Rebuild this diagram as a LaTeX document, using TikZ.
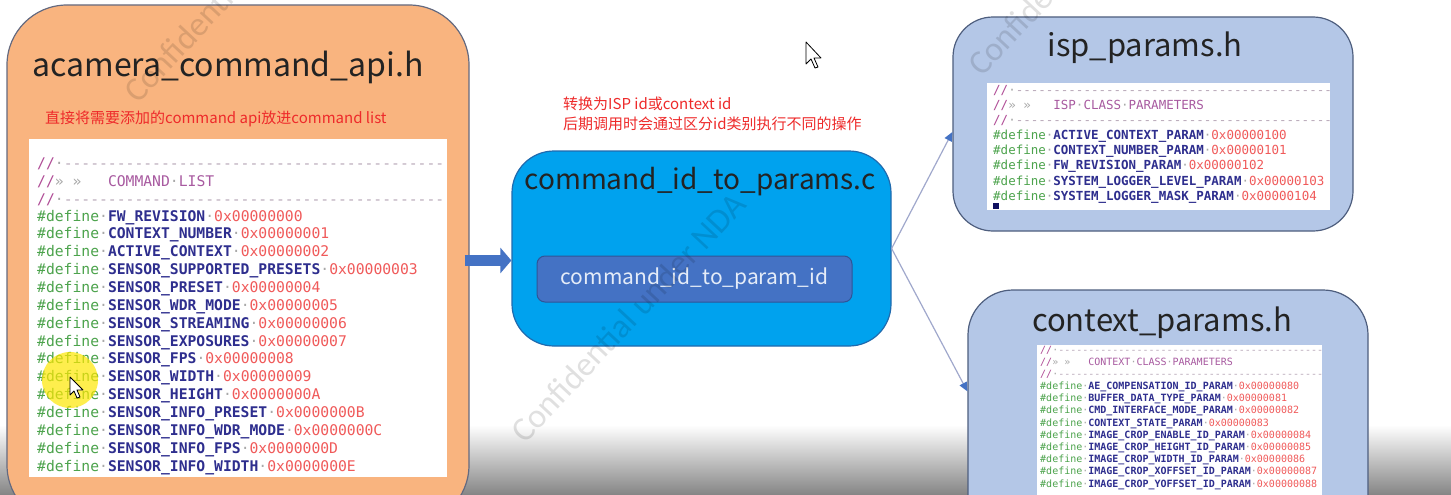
\documentclass[tikz,border=0pt]{standalone}
\usepackage{fontspec}
\setmainfont{Noto Sans}
\setmonofont{DejaVu Sans Mono}
\newfontfamily\cjk{Noto Sans CJK SC}
\newfontfamily\wmfont{Carlito}
\usetikzlibrary{arrows.meta,calc}
\definecolor{orfill}{HTML}{F9B47F}
\definecolor{orline}{HTML}{646A80}
\definecolor{midfill}{HTML}{00A2EE}
\definecolor{midline}{HTML}{1F6AAE}
\definecolor{innfill}{HTML}{4472C4}
\definecolor{innline}{HTML}{2F5597}
\definecolor{innt}{HTML}{E4ECF8}
\definecolor{bluefill}{HTML}{B4C7E7}
\definecolor{blueline}{HTML}{4E5E7E}
\definecolor{redtxt}{HTML}{EE2A2A}
\definecolor{titletxt}{HTML}{232323}
\definecolor{defc}{HTML}{4CA34C}
\definecolor{namec}{HTML}{2E2E8E}
\definecolor{valc}{HTML}{F05A5A}
\definecolor{cmtc}{HTML}{B04C96}
\definecolor{cmtt}{HTML}{A85AA0}
\definecolor{dashc}{HTML}{B8A8B8}
\definecolor{dotc}{HTML}{A8A8A8}
\definecolor{connc}{HTML}{A0A8CC}
\definecolor{sqc}{HTML}{101060}
\newcommand\mydef[2]{\textcolor{defc}{\#define}\textcolor{dotc}{·}\textcolor{namec}{\bfseries #1}\textcolor{dotc}{·}\textcolor{valc}{#2}}
\newcommand\mydashes[1]{\foreach\k in {1,...,#1}{-}}
\newcommand\mydash[1]{\textcolor{cmtc}{//}\textcolor{dotc}{·}\textcolor{dashc}{\mydashes{#1}}}
\newcommand\myhead[1]{\textcolor{cmtc}{//}\textcolor{dotc}{»\phantom{x}»\phantom{xxx}}\textcolor{cmtt}{#1}}
\tikzset{
  filebox/.style={draw, line width=1.2pt, inner sep=0pt},
  panel/.style={fill=white, draw=none, inner sep=0pt},
  ftitle/.style={inner sep=0pt, text=titletxt, font=\cjk\fontsize{#1pt}{#1pt}\selectfont},
  redlab/.style={inner sep=0pt, anchor=west, text=redtxt, font=\cjk\fontsize{15pt}{16pt}\selectfont},
  codeL/.style={inner sep=0pt, anchor=base west, font=\ttfamily\fontsize{14.7pt}{16pt}\selectfont},
  codeI/.style={inner sep=0pt, anchor=base west, font=\ttfamily\fontsize{12.5pt}{14pt}\selectfont},
  codeC/.style={inner sep=0pt, anchor=base west, font=\ttfamily\fontsize{10pt}{11pt}\selectfont},
  conn/.style={draw=connc, line width=1.2pt, -{Triangle[length=9pt,width=8pt,color=innfill,fill=innfill]}},
  blockarr/.style={draw=innfill, line width=11pt, -{Triangle[length=11pt,width=25pt]}},
  wm/.style={inner sep=0pt, anchor=base west, text=black, opacity=0.12, rotate=47, font=\wmfont\fontsize{34pt}{34pt}\selectfont},
  cursor/.style={fill=white, draw=black, line width=0.8pt, line join=round}
}
\begin{document}
\begin{tikzpicture}[x=1pt,y=-1pt]
\useasboundingbox (0,0) rectangle (1451,495);
\clip (0,0) rectangle (1451,495);
\fill[white] (0,0) rectangle (1451,495);
\shade[top color=white, bottom color=black!48] (0,425) rectangle (1451,495);

% left file box
\node[filebox, fill=orfill, draw=orline, rounded corners=60pt, minimum width=462pt, minimum height=520pt] (orange) at (238,265) {};
\node[ftitle=32] (otitle) at (228,67) {acamera\_command\_api.h};
\node[redlab] (ored) at (45,119) {直接将需要添加的command api放进command list};
\node[panel, minimum width=418pt, minimum height=338pt] (opanel) at (238,308) {};
\node[codeL] (lc0) at (37,168) {\mydash{43}};
\node[codeL] (lc1) at (37,186) {\myhead{COMMAND\textcolor{dotc}{·}LIST}};
\node[codeL] (lc2) at (37,204) {\mydash{43}};
\foreach \nm/\vl [count=\i from 0] in {FW\_REVISION/0x00000000, CONTEXT\_NUMBER/0x00000001, ACTIVE\_CONTEXT/0x00000002, SENSOR\_SUPPORTED\_PRESETS/0x00000003, SENSOR\_PRESET/0x00000004, SENSOR\_WDR\_MODE/0x00000005, SENSOR\_STREAMING/0x00000006, SENSOR\_EXPOSURES/0x00000007, SENSOR\_FPS/0x00000008, SENSOR\_WIDTH/0x00000009, SENSOR\_HEIGHT/0x0000000A, SENSOR\_INFO\_PRESET/0x0000000B, SENSOR\_INFO\_WDR\_MODE/0x0000000C, SENSOR\_INFO\_FPS/0x0000000D, SENSOR\_INFO\_WIDTH/0x0000000E}
  \node[codeL] (ld\i) at (37,221+17.86*\i) {\mydef{\nm}{\vl}};
\fill[yellow!90!orange, opacity=0.7] (70,380) circle (28);
\draw[cursor] (70,377) -- (70,395) -- (74,391) -- (77,398) -- (80,397) -- (77,390) -- (83,390) -- cycle;

% middle box
\node[filebox, fill=midfill, draw=midline, rounded corners=42pt, minimum width=379pt, minimum height=195pt] (cmd) at (701.5,248.5) {};
\node[ftitle=28] (ctitle) at (700,182) {command\_id\_to\_params.c};
\node[draw=innline, fill=innfill, line width=1pt, rounded corners=8pt, minimum width=315pt, minimum height=46pt, inner sep=0pt, text=innt, font=\cjk\fontsize{21pt}{21pt}\selectfont] (inner) at (694.5,279) {command\_id\_to\_param\_id};
\node[redlab] (mred1) at (563,104) {转换为ISP id或context id};
\node[redlab] (mred2) at (563,124) {后期调用时会通过区分id类别执行不同的操作};

% isp box
\node[filebox, fill=bluefill, draw=blueline, rounded corners=40pt, minimum width=400pt, minimum height=214pt] (isp) at (1153,124) {};
\node[ftitle=31] (ititle) at (1145,48) {isp\_params.h};
\node[panel, minimum width=343pt, minimum height=127pt] (ipanel) at (1158.5,146.5) {};
\node[codeI] (ic0) at (993,94) {\mydash{42}};
\node[codeI] (ic1) at (993,109) {\myhead{ISP\textcolor{dotc}{·}CLASS\textcolor{dotc}{·}PARAMETERS}};
\node[codeI] (ic2) at (993,124) {\mydash{42}};
\foreach \nm/\vl [count=\i from 0] in {ACTIVE\_CONTEXT\_PARAM/0x00000100, CONTEXT\_NUMBER\_PARAM/0x00000101, FW\_REVISION\_PARAM/0x00000102, SYSTEM\_LOGGER\_LEVEL\_PARAM/0x00000103, SYSTEM\_LOGGER\_MASK\_PARAM/0x00000104}
  \node[codeI] (id\i) at (993,139.5+15.2*\i) {\mydef{\nm}{\vl}};
\fill[sqc] (993,203) rectangle (999,209);

% context box
\node[filebox, fill=bluefill, draw=blueline, rounded corners=45pt, minimum width=400pt, minimum height=270pt] (ctx) at (1168,425) {};
\node[ftitle=31] (xtitle) at (1162,323) {context\_params.h};
\node[panel, minimum width=285pt, minimum height=152pt] (xpanel) at (1179.5,421) {};
\node[codeC] (xc0) at (1040,353.5) {\mydash{44}};
\node[codeC] (xc1) at (1040,365.5) {\myhead{CONTEXT\textcolor{dotc}{·}CLASS\textcolor{dotc}{·}PARAMETERS}};
\node[codeC] (xc2) at (1040,377.5) {\mydash{44}};
\foreach \nm/\vl [count=\i from 0] in {AE\_COMPENSATION\_ID\_PARAM/0x00000080, BUFFER\_DATA\_TYPE\_PARAM/0x00000081, CMD\_INTERFACE\_MODE\_PARAM/0x00000082, CONTEXT\_STATE\_PARAM/0x00000083, IMAGE\_CROP\_ENABLE\_ID\_PARAM/0x00000084, IMAGE\_CROP\_HEIGHT\_ID\_PARAM/0x00000085, IMAGE\_CROP\_WIDTH\_ID\_PARAM/0x00000086, IMAGE\_CROP\_XOFFSET\_ID\_PARAM/0x00000087, IMAGE\_CROP\_YOFFSET\_ID\_PARAM/0x00000088}
  \node[codeC] (xd\i) at (1040,389.5+12.2*\i) {\mydef{\nm}{\vl}};

% connectors
\coordinate (arrs) at ([xshift=-5pt,yshift=4.5pt]orange.east);
\draw[blockarr] (arrs) -- (cmd.west |- arrs);
\draw[conn] (cmd.east) -- ([yshift=-8pt]isp.west);
\draw[conn] (cmd.east) -- ([yshift=-102pt]ctx.north west);

% watermarks
\node[wm] (wm1) at (138,105) {Confidential under NDA};
\node[wm] (wm2) at (525,445) {Confidential under NDA};
\node[wm] (wm3) at (982,78) {Confidential under NDA};

% screen cursor
\draw[cursor] (806,42) -- (806,64) -- (811,59) -- (815,68) -- (818,67) -- (814,58) -- (821,58) -- cycle;
\end{tikzpicture}
\end{document}
